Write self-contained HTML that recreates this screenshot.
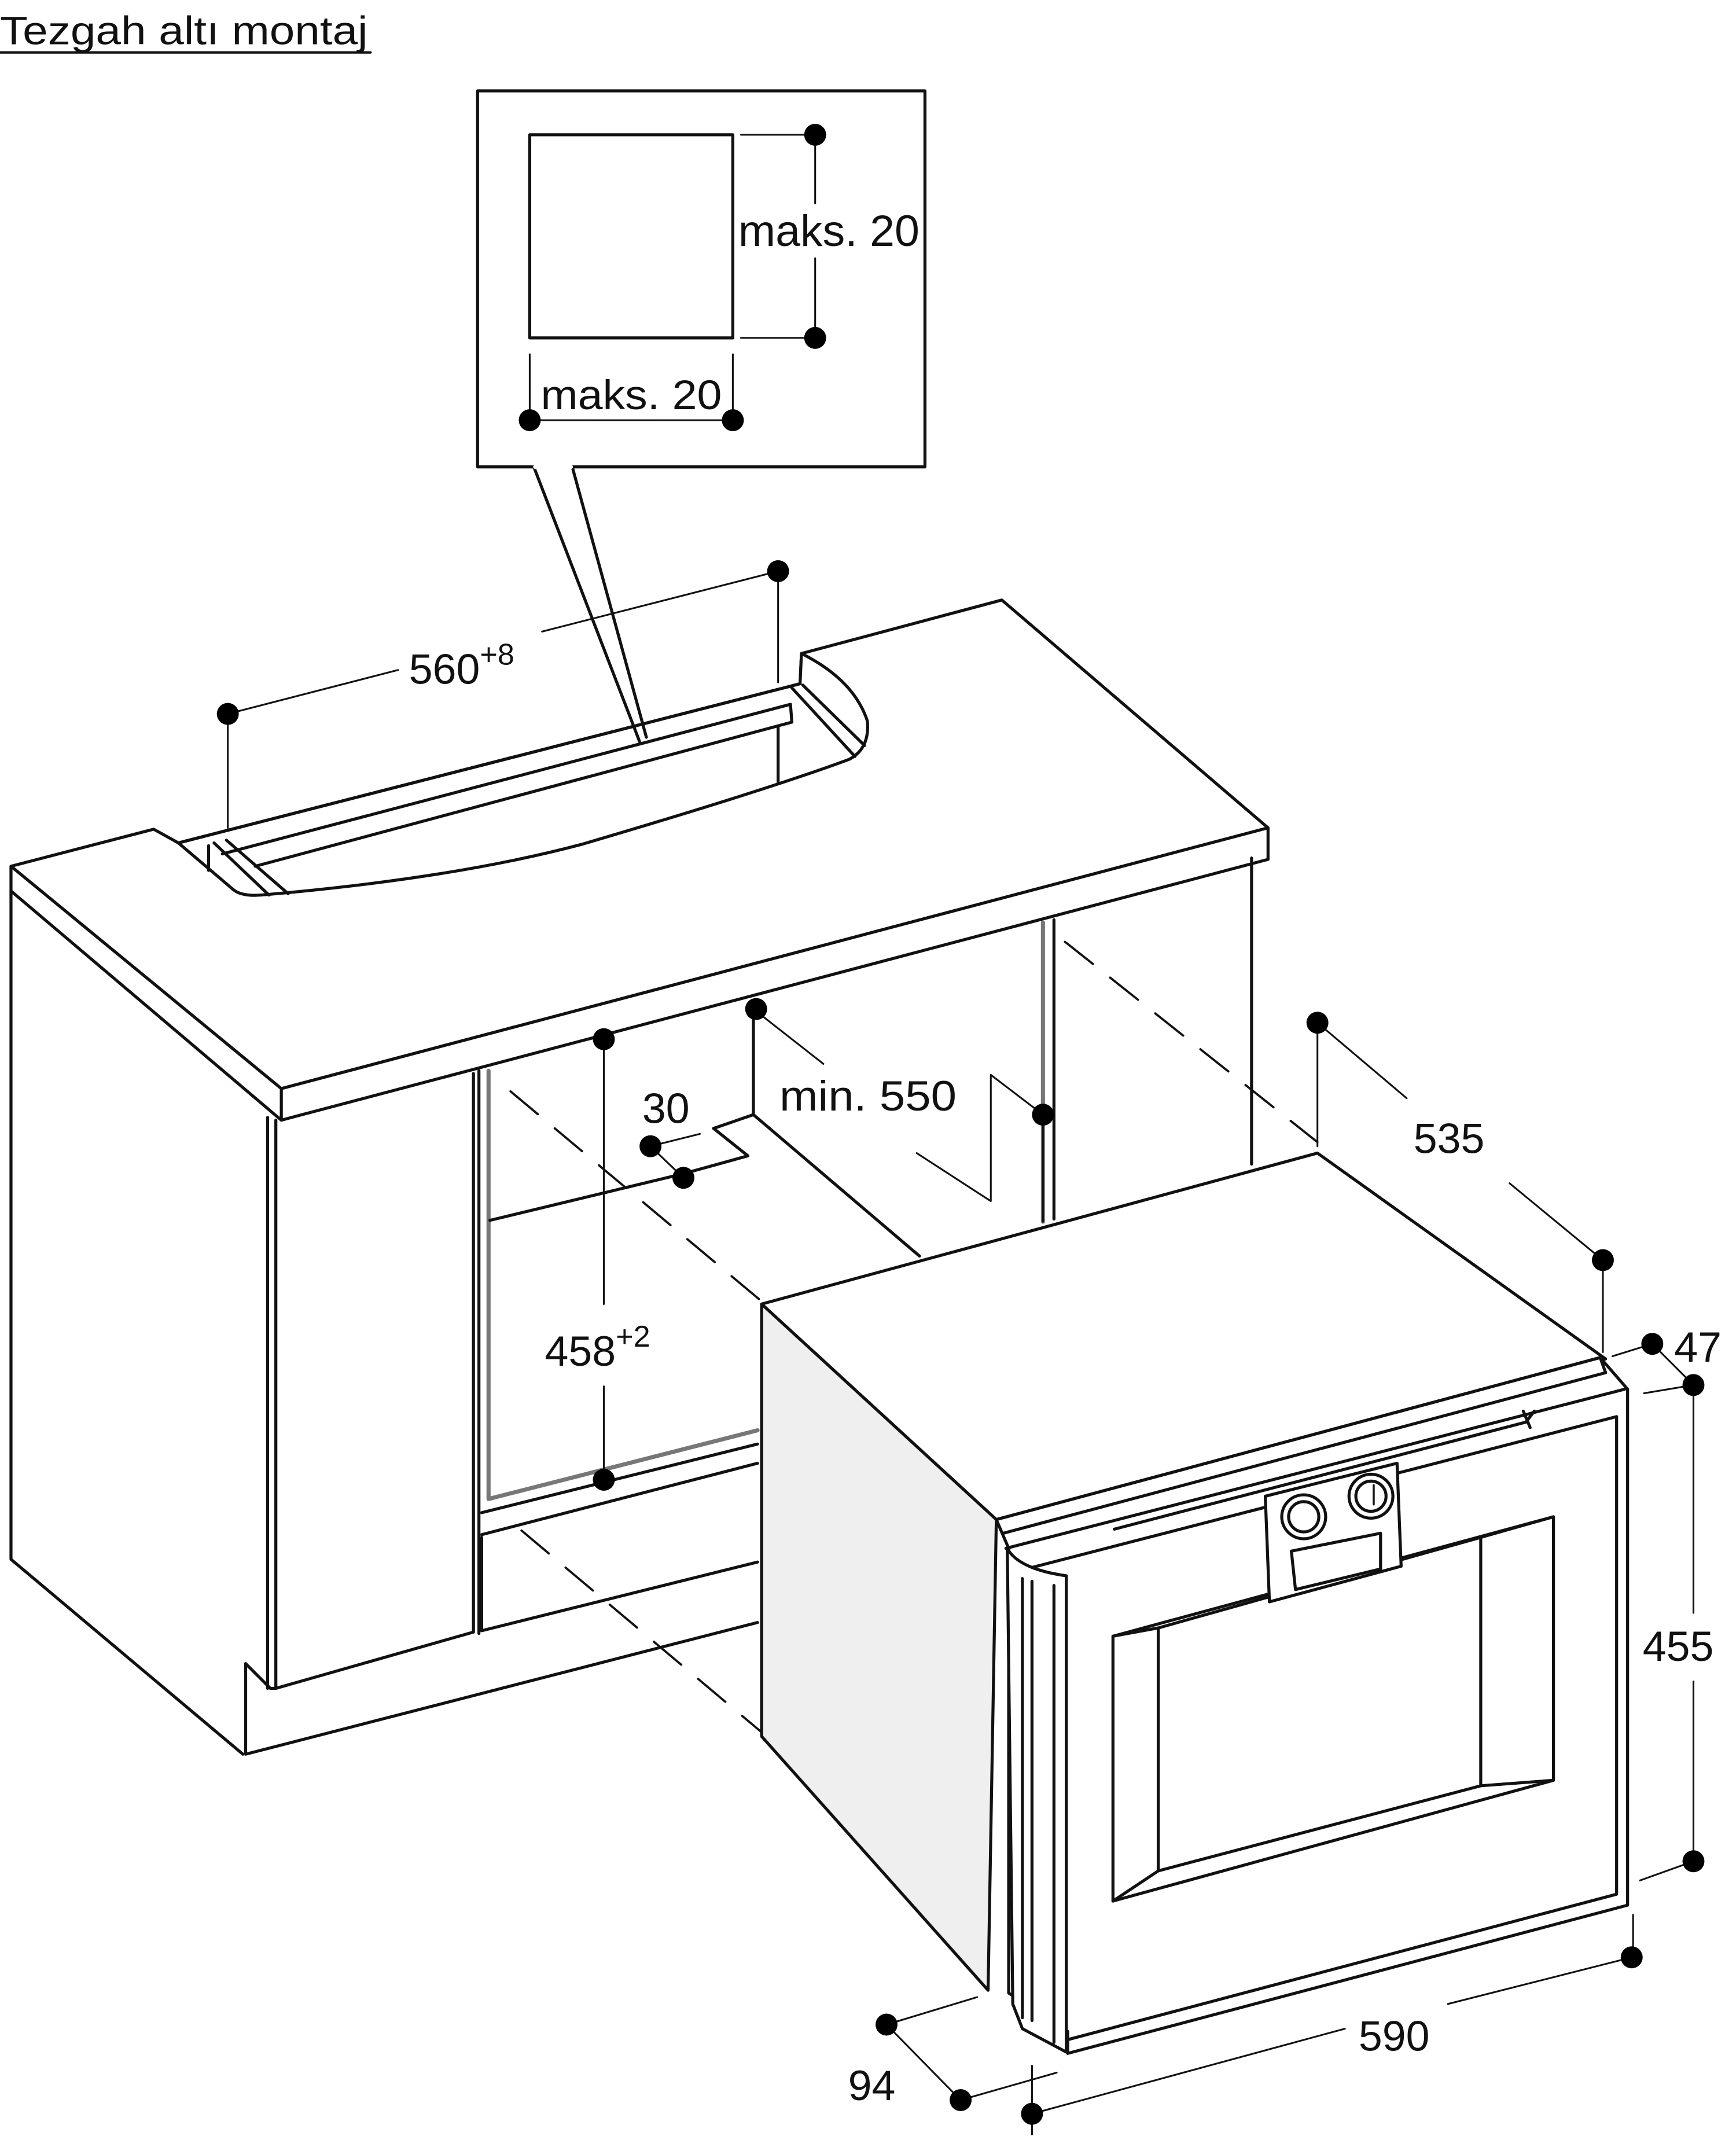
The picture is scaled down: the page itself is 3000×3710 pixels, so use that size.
<!DOCTYPE html>
<html><head><meta charset="utf-8"><style>
html,body{margin:0;padding:0;background:#fff;}
svg{display:block;}
text{font-family:"Liberation Sans",Arial,sans-serif;fill:#111;}
</style></head><body>
<svg width="3000" height="3710" viewBox="0 0 1265 1564" xmlns="http://www.w3.org/2000/svg">
<g fill="none" stroke="#111" stroke-width="2.2" stroke-linejoin="round" stroke-linecap="round">
<text x="0" y="32" font-size="29" stroke="none" textLength="268" lengthAdjust="spacingAndGlyphs">Tezgah altı montaj</text>
<line x1="0" y1="38" x2="270" y2="38" stroke-width="1.8"/>

<rect x="348" y="66" width="326" height="274" fill="#fff"/>
<rect x="386" y="98" width="148" height="148"/>
<line x1="540" y1="98" x2="594" y2="98" stroke-width="1.3"/>
<line x1="540" y1="246" x2="594" y2="246" stroke-width="1.3"/>
<line x1="594" y1="98" x2="594" y2="148" stroke-width="1.3"/>
<line x1="594" y1="188" x2="594" y2="246" stroke-width="1.3"/>
<line x1="386" y1="258" x2="386" y2="306" stroke-width="1.3"/>
<line x1="534" y1="258" x2="534" y2="306" stroke-width="1.3"/>
<line x1="386" y1="306" x2="534" y2="306" stroke-width="1.3"/>
<text x="538" y="179" font-size="32" stroke="none" textLength="132" lengthAdjust="spacingAndGlyphs">maks. 20</text>
<text x="394" y="298" font-size="30" stroke="none" textLength="132" lengthAdjust="spacingAndGlyphs">maks. 20</text>

<path d="M8 631 L112 604 L130 614 L583 498 L584 476 L730 437 L924 603 L205 793 Z" fill="#fff"/>
<path d="M8 631 L205 793 L205 816 L8 649 Z" fill="#fff"/>
<path d="M205 793 L924 603 L924 626 L205 816 Z" fill="#fff"/>
<path d="M130 614 L170 648 Q176 653 190 652 Q330 640 424 615 Q560 575 619 553 Q634 545 632 525 Q622 495 584 476 L583 498 Z" fill="#fff"/>
<line x1="130" y1="614" x2="583" y2="498"/>
<line x1="162" y1="622" x2="576" y2="513"/>
<line x1="186" y1="631" x2="577" y2="526"/>
<line x1="576" y1="513" x2="577" y2="526"/>
<line x1="152" y1="616" x2="152" y2="634"/>
<line x1="156" y1="614" x2="196" y2="652"/>
<line x1="165" y1="612" x2="210" y2="651"/>
<line x1="577" y1="501" x2="623" y2="551"/>
<line x1="585" y1="499" x2="630" y2="543"/>
<line x1="567" y1="530" x2="567" y2="570"/>
<line x1="389" y1="340" x2="466" y2="540"/>
<line x1="417" y1="340" x2="471" y2="537"/>
<line x1="390" y1="340" x2="416" y2="340" stroke="#fff" stroke-width="3"/>

<path d="M8 649 L8 1136 L177 1278"/>
<path d="M195 814 L195 1230"/>
<path d="M201 816 L201 1230 L345 1189 L345 782"/>
<path d="M179 1212 L179 1278 L552 1182"/>
<line x1="179" y1="1212" x2="197" y2="1230"/>
<line x1="197" y1="1230" x2="201" y2="1230"/>
<path d="M349 780 L349 1190"/>
<path d="M351 1120 L351 1188 L552 1138"/>
<path d="M351 1102 L552 1052"/>
<path d="M351 1118 L552 1066"/>
<path d="M356 780 L356 1092 L552 1042" stroke="#777" stroke-width="3"/>
<path d="M357 889 L498 855"/>
<line x1="549" y1="735" x2="549" y2="812"/>
<path d="M520 822 L549 812 L670 915"/>
<path d="M520 822 L545 842 L498 855"/>
<path d="M760 672 L760 890" stroke="#777" stroke-width="3"/>
<line x1="768" y1="670" x2="768" y2="888"/>
<line x1="912" y1="625" x2="912" y2="848"/>
<g stroke-dasharray="26 16" stroke-width="1.6">
<line x1="776" y1="686" x2="960" y2="832"/>
<line x1="372" y1="795" x2="555" y2="948"/>
<line x1="380" y1="1115" x2="555" y2="1262"/>
</g>

<!-- oven -->
<path d="M555 950 L960 840 L1170 990 L726 1107 Z" fill="#fff"/>
<path d="M555 950 L726 1107 L720 1450 L555 1265 Z" fill="#efefef"/>
<path d="M726 1107 L1166 989 L1186 1012 L1186 1388 L778 1496 L778 1480 L735 1452 L735 1128 Z" fill="#fff"/>
<path d="M726 1107 L1166 989 L1170 1000 L731 1117"/>
<path d="M733 1128 L1184 1012"/>
<path d="M740 1145 L1178 1032 L1178 1380 L778 1486"/>
<path d="M812 1114 L1112 1036 L1118 1028"/>
<path d="M1110 1028 L1115 1040"/>
<path d="M734 1128 Q742 1143 777 1148 L777 1495 L745 1478 L738 1460 Z" fill="#fff"/>
<line x1="745" y1="1150" x2="745" y2="1470"/>
<line x1="752" y1="1152" x2="752" y2="1472"/>
<line x1="768" y1="1155" x2="768" y2="1488"/>
<path d="M811 1192 L1132 1105 L1132 1297 L811 1385 Z"/>
<path d="M844 1186 L1079 1120 L1079 1301 L844 1363 Z"/>
<line x1="1079" y1="1301" x2="1132" y2="1297"/>
<line x1="844" y1="1363" x2="811" y2="1385"/>
<line x1="844" y1="1186" x2="811" y2="1192"/>
<line x1="1079" y1="1120" x2="1132" y2="1105"/>
<path d="M922 1090 L1018 1066 L1021 1141 L925 1167 Z" fill="#fff"/>
<path d="M941 1130 L1006 1117 L1006 1143 L944 1158 Z"/>
<circle cx="950" cy="1105" r="16" fill="#fff"/>
<circle cx="999" cy="1090" r="16" fill="#fff"/>
<circle cx="950" cy="1105" r="11"/>
<circle cx="999" cy="1090" r="11"/>
<line x1="1001" y1="1082" x2="1001" y2="1096" stroke-width="1.5"/>

<g stroke-width="1.3">
<line x1="166" y1="520" x2="166" y2="603"/>
<line x1="567" y1="416" x2="567" y2="497"/>
<line x1="166" y1="520" x2="290" y2="488"/>
<line x1="395" y1="460" x2="567" y2="416"/>
<line x1="440" y1="757" x2="440" y2="950"/>
<line x1="440" y1="1010" x2="440" y2="1078"/>
<line x1="474" y1="835" x2="498" y2="858"/>
<line x1="474" y1="835" x2="510" y2="826"/>
<line x1="549" y1="735" x2="600" y2="775"/>
<path d="M722 783 L760 812 L760 890"/>
<path d="M722 783 L722 875 L668 840"/>
<line x1="960" y1="745" x2="960" y2="835"/>
<line x1="960" y1="745" x2="1025" y2="800"/>
<line x1="1100" y1="862" x2="1168" y2="918"/>
<line x1="1168" y1="918" x2="1168" y2="985"/>
<line x1="1175" y1="988" x2="1204" y2="979"/>
<line x1="1204" y1="979" x2="1234" y2="1009"/>
<line x1="1198" y1="1015" x2="1234" y2="1009"/>
<line x1="1234" y1="1009" x2="1234" y2="1175"/>
<line x1="1234" y1="1225" x2="1234" y2="1356"/>
<line x1="1195" y1="1370" x2="1234" y2="1356"/>
<line x1="1190" y1="1395" x2="1190" y2="1426"/>
<line x1="1189" y1="1426" x2="1055" y2="1460"/>
<line x1="980" y1="1478" x2="752" y2="1540"/>
<line x1="752" y1="1505" x2="752" y2="1555"/>
<line x1="646" y1="1475" x2="700" y2="1530"/>
<line x1="646" y1="1475" x2="712" y2="1455"/>
<line x1="700" y1="1530" x2="770" y2="1510"/>
</g>
</g>
<g fill="#000">
<circle cx="594" cy="98" r="8"/><circle cx="594" cy="246" r="8"/>
<circle cx="386" cy="306" r="8"/><circle cx="534" cy="306" r="8"/>
<circle cx="166" cy="520" r="8"/><circle cx="567" cy="416" r="8"/>
<circle cx="440" cy="757" r="8"/><circle cx="440" cy="1078" r="8"/>
<circle cx="474" cy="835" r="8"/><circle cx="498" cy="858" r="8"/>
<circle cx="551" cy="735" r="8"/><circle cx="760" cy="812" r="8"/>
<circle cx="960" cy="745" r="8"/><circle cx="1168" cy="918" r="8"/>
<circle cx="1204" cy="979" r="8"/><circle cx="1234" cy="1009" r="8"/>
<circle cx="1234" cy="1356" r="8"/><circle cx="1189" cy="1426" r="8"/>
<circle cx="752" cy="1540" r="8"/><circle cx="646" cy="1475" r="8"/>
<circle cx="700" cy="1530" r="8"/>
</g>
<g font-size="31">
<text x="298" y="498">560<tspan font-size="22" dy="-14">+8</tspan></text>
<text x="397" y="995">458<tspan font-size="22" dy="-14">+2</tspan></text>
<text x="468" y="818">30</text>
<text x="568" y="809" textLength="129" lengthAdjust="spacingAndGlyphs">min. 550</text>
<text x="1030" y="840">535</text>
<text x="1220" y="992">47</text>
<text x="1197" y="1210">455</text>
<text x="990" y="1494">590</text>
<text x="618" y="1530">94</text>
</g>
</svg>
</body></html>
